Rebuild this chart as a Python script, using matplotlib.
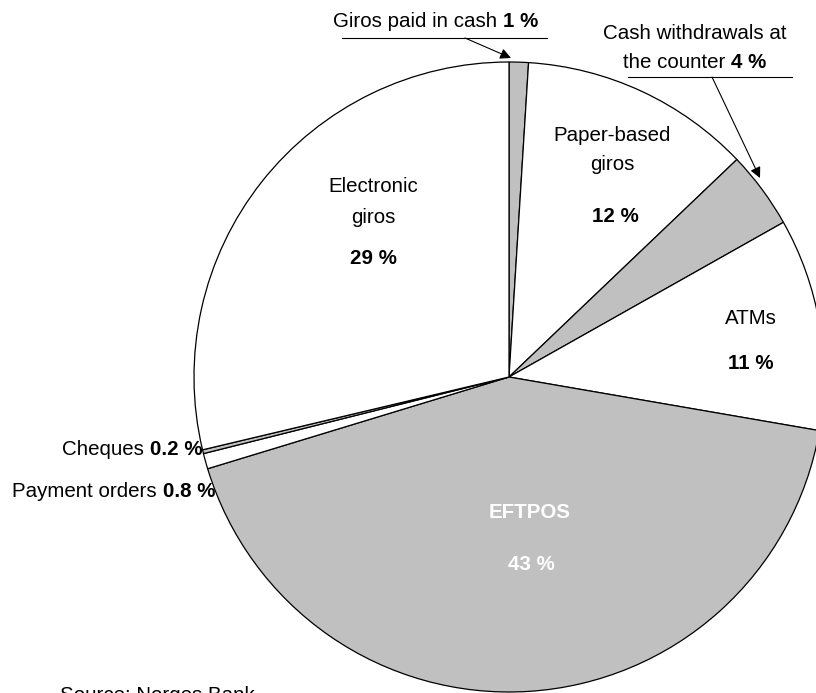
import matplotlib
matplotlib.use("Agg")
import matplotlib.pyplot as plt
from matplotlib import font_manager

# ---- data ----
categories = ["Giros paid in cash", "Paper-based giros", "Cash withdrawals at the counter",
              "ATMs", "EFTPOS", "Payment orders", "Cheques", "Electronic giros"]
shares = [1, 12, 4, 11, 43, 0.8, 0.2, 29]
share_labels = ["1 %", "12 %", "4 %", "11 %", "43 %", "0.8 %", "0.2 %", "29 %"]
slice_colors = ["#C0C0C0", "#FFFFFF", "#C0C0C0", "#FFFFFF", "#C0C0C0", "#FFFFFF", "#C0C0C0", "#FFFFFF"]
source_text = "Source: Norges Bank"

W, H = 816, 693
names = {f.name for f in font_manager.fontManager.ttflist}
if "Liberation Sans Narrow" in names:
    FONT, FS = "Liberation Sans Narrow", 17
else:
    FONT, FS = "Liberation Sans", 14.8

fig = plt.figure(figsize=(W / 100, H / 100), dpi=100)
ax = fig.add_axes([0, 0, 1, 1])

def Y(py):
    return H - py

ax.pie(shares, colors=slice_colors, startangle=90, counterclock=False,
       center=(509, Y(377)), radius=315, frame=True,
       wedgeprops=dict(edgecolor="black", linewidth=0.9))
ax.set_xlim(0, W)
ax.set_ylim(0, H)
ax.set_aspect("equal")
ax.axis("off")

renderer = fig.canvas.get_renderer()

def measure(s, weight):
    t1 = ax.text(0, 0, "|" + s + "|", fontsize=FS, fontweight=weight, family=FONT)
    t2 = ax.text(0, 0, "||", fontsize=FS, fontweight=weight, family=FONT)
    w = t1.get_window_extent(renderer).width - t2.get_window_extent(renderer).width
    t1.remove(); t2.remove()
    return w

def rich(x, y, parts, ha="center", color="black"):
    widths = [measure(s, w) for s, w in parts]
    total = sum(widths)
    if ha == "center":
        cur = x - total / 2
    elif ha == "right":
        cur = x - total
    else:
        cur = x
    for (s, w), wd in zip(parts, widths):
        ax.text(cur, Y(y), s, fontsize=FS, fontweight=w, color=color,
                family=FONT, ha="left", va="baseline")
        cur += wd

# in-slice labels
rich(373, 192, [("Electronic", "normal")])
rich(373, 223, [("giros", "normal")])
rich(373, 264, [(share_labels[7], "bold")])

rich(612, 141, [("Paper-based", "normal")])
rich(612, 170, [("giros", "normal")])
rich(615, 222, [(share_labels[1], "bold")])

rich(751, 324, [("ATMs", "normal")])
rich(751, 369, [(share_labels[3], "bold")])

rich(530, 518, [("EFTPOS", "bold")], color="white")
rich(531, 570, [(share_labels[4], "bold")], color="white")

# outside labels
rich(436, 27, [("Giros paid in cash ", "normal"), (share_labels[0], "bold")])
ax.plot([342, 547], [Y(38), Y(38)], color="black", lw=0.8)
ax.annotate("", xy=(511, Y(58)), xytext=(465, Y(38)),
            arrowprops=dict(arrowstyle="-|>", color="black", lw=0.8,
                            mutation_scale=16, shrinkA=0, shrinkB=0))

rich(695, 39, [("Cash withdrawals at", "normal")])
rich(695, 68, [("the counter ", "normal"), (share_labels[2], "bold")])
ax.plot([628, 792], [Y(77), Y(77)], color="black", lw=0.8)
ax.annotate("", xy=(760, Y(178)), xytext=(712, Y(77)),
            arrowprops=dict(arrowstyle="-|>", color="black", lw=0.8,
                            mutation_scale=16, shrinkA=0, shrinkB=0))

rich(202, 455, [("Cheques ", "normal"), (share_labels[6], "bold")], ha="right")
rich(215, 497, [("Payment orders ", "normal"), (share_labels[5], "bold")], ha="right")

ax.text(60, Y(701), source_text, fontsize=FS, family=FONT, ha="left", va="baseline")

fig.savefig("out.png", dpi=100)
